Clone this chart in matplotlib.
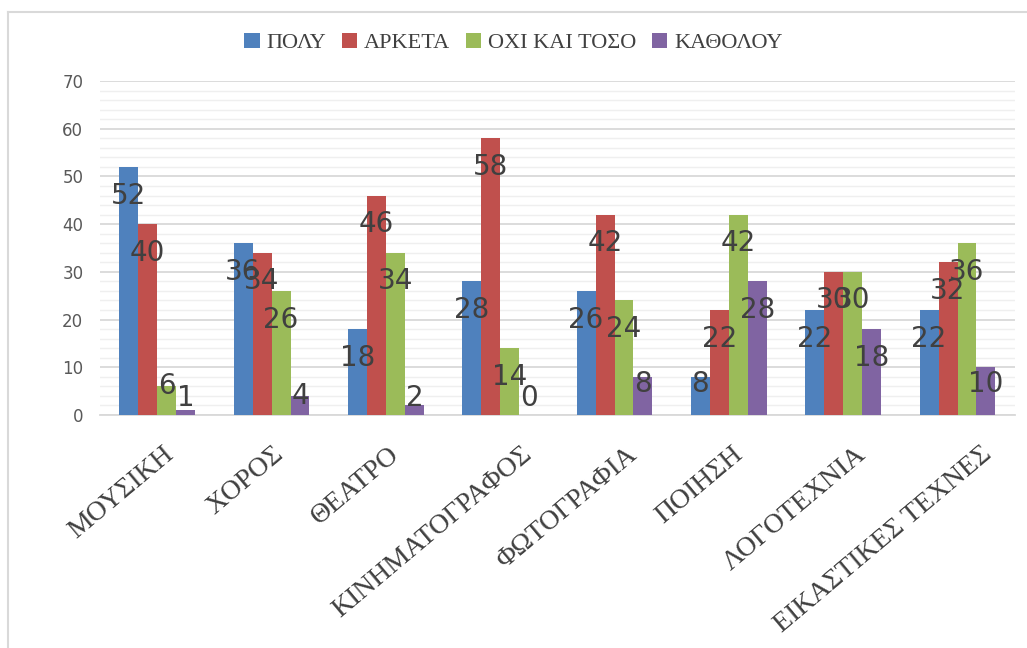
import numpy as np
import matplotlib
matplotlib.use("Agg")
import matplotlib.pyplot as plt
import matplotlib.transforms as mtransforms
from matplotlib.lines import Line2D
from matplotlib.ticker import MultipleLocator

# Datos
categories = ["ΜΟΥΣΙΚΗ", "ΧΟΡΟΣ", "ΘΕΑΤΡΟ", "ΚΙΝΗΜΑΤΟΓΡΑΦΟΣ",
              "ΦΩΤΟΓΡΑΦΙΑ", "ΠΟΙΗΣΗ", "ΛΟΓΟΤΕΧΝΙΑ", "ΕΙΚΑΣΤΙΚΕΣ ΤΕΧΝΕΣ"]
series_names = ["ΠΟΛΥ", "ΑΡΚΕΤΑ", "ΟΧΙ ΚΑΙ ΤΟΣΟ", "ΚΑΘΟΛΟΥ"]
poly     = [52, 36, 18, 28, 26, 8, 22, 22]
arketa   = [40, 34, 46, 58, 42, 22, 30, 32]
oxi      = [6, 26, 34, 14, 24, 42, 30, 36]
katholou = [1, 4, 2, 0, 8, 28, 18, 10]
colors = ["#4F81BD", "#C0504D", "#9BBB59", "#8064A2"]

fig = plt.figure(figsize=(10.27, 6.48), dpi=100)
ax = fig.add_axes([0.0974, 0.3596, 0.8906, 0.5154])

# marco gris (solo izquierda y arriba visibles)
fx, fy = 8 / 1027, 1 - 12 / 648
fig.add_artist(Line2D([fx, fx], [0, fy], transform=fig.transFigure,
                      color="#d9d9d9", linewidth=1.5))
fig.add_artist(Line2D([fx, 1], [fy, fy], transform=fig.transFigure,
                      color="#d9d9d9", linewidth=1.5))

x = np.arange(len(categories))
w = 0.166
for i, (vals, name, c) in enumerate(zip([poly, arketa, oxi, katholou],
                                         series_names, colors)):
    pos = x + (i - 1.5) * w
    ax.bar(pos, vals, width=w, color=c, label=name, zorder=3)
    for px, v in zip(pos, vals):
        ly = max(v - 6, min(v, 6.5), 3.5)
        ax.text(px, ly, str(v), ha="center", va="center",
                fontsize=20, color="#404040", family="DejaVu Sans", zorder=4)

ax.set_xlim(-0.5, len(categories) - 0.5)
ax.set_ylim(0, 70)
ax.yaxis.set_major_locator(MultipleLocator(10))
ax.yaxis.set_minor_locator(MultipleLocator(2))
ax.grid(axis="y", which="major", color="#d9d9d9", linewidth=1.3, zorder=0)
ax.grid(axis="y", which="minor", color="#efefef", linewidth=1.0, zorder=0)
ax.set_axisbelow(True)

for s in ["top", "right", "left"]:
    ax.spines[s].set_visible(False)
ax.spines["bottom"].set_color("#d9d9d9")
ax.spines["bottom"].set_linewidth(1.3)

ax.tick_params(axis="y", which="both", length=0, pad=12,
               labelsize=12, labelcolor="#595959")
ax.set_xticks(x)
ax.set_xticklabels([])
ax.tick_params(axis="x", length=0)

# etiquetas de categoría rotadas (estilo Excel: desplazadas según longitud)
renderer = fig.canvas.get_renderer()
trans = ax.get_xaxis_transform()
for xi, cat in zip(x, categories):
    t = ax.text(xi, 0, cat, family="Liberation Serif", fontsize=20,
                color="#404040")
    L = t.get_window_extent(renderer).width
    t.remove()
    off = mtransforms.ScaledTranslation((0.12 * L - 10) / 100, -27 / 100,
                                        fig.dpi_scale_trans)
    ax.text(xi, 0, cat, family="Liberation Serif", fontsize=20,
            color="#404040", rotation=40, rotation_mode="anchor",
            ha="right", va="top", transform=trans + off, clip_on=False)

fig.legend(loc="center", bbox_to_anchor=(0.5, 1 - 43 / 648), ncol=4,
           frameon=False, handlelength=0.7, handleheight=0.7,
           handletextpad=0.3, columnspacing=0.7,
           prop={"family": "Liberation Serif", "size": 16},
           labelcolor="#404040")

fig.savefig("out.png", dpi=100)
